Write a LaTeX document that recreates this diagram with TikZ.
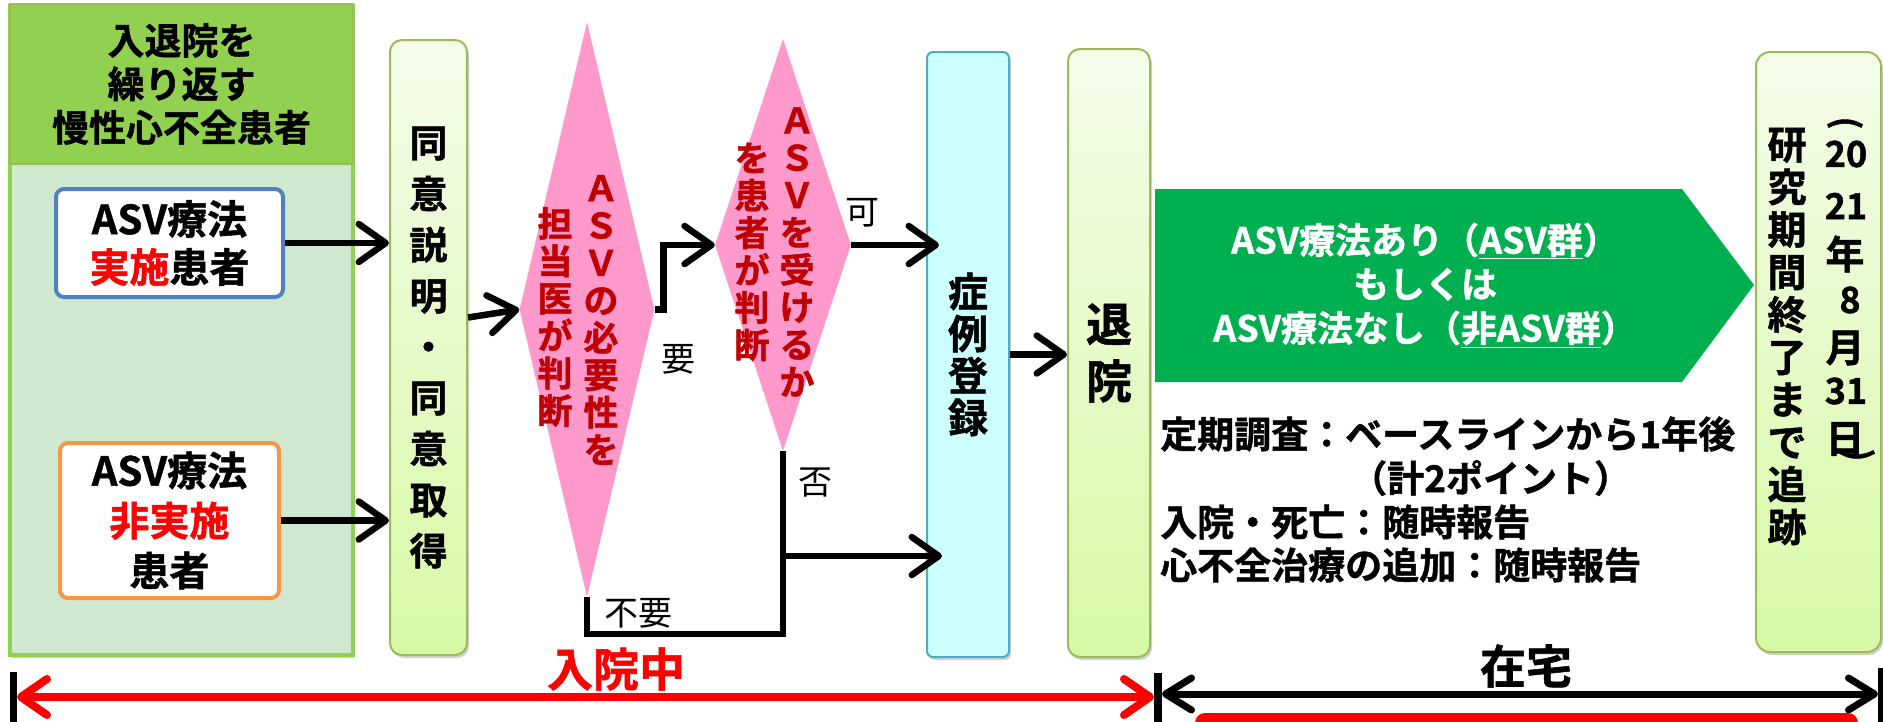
\documentclass[tikz,border=0pt]{standalone}
\usepackage{fontspec}
\setmainfont{Noto Sans CJK JP}[BoldFont={Noto Sans CJK JP Bold},BoldFeatures={FakeBold=1.2}]
\usetikzlibrary{arrows.meta,shapes.geometric,shadows}
\definecolor{hdrG}{HTML}{92D050}
\definecolor{bodyG}{HTML}{D0E7D0}
\definecolor{boxBlue}{HTML}{4F81BD}
\definecolor{boxOrange}{HTML}{F79646}
\definecolor{lgTop}{HTML}{F4FCEA}
\definecolor{lgBot}{HTML}{D7F9A6}
\definecolor{lgBorder}{HTML}{9BBB59}
\definecolor{cyanFill}{HTML}{CCFFFF}
\definecolor{cyanBorder}{HTML}{4BACC6}
\definecolor{pinkD}{HTML}{FF99CC}
\definecolor{darkRed}{HTML}{C00000}
\definecolor{asvG}{HTML}{00B050}
\newcommand\fsz[2]{\fontsize{#1}{#2}\selectfont}
\begin{document}
\begin{tikzpicture}[x=1pt,y=-1pt,
  conn/.style={line width=6.5pt},
  arr/.style={line width=6.5pt,-{Straight Barb[length=27pt,width=38pt,round]}},
  redarr/.style={draw=red,line width=8pt,{Straight Barb[length=26pt,width=36pt,round]}-{Straight Barb[length=26pt,width=36pt,round]}},
  blkarr/.style={draw=black,line width=7pt,{Straight Barb[length=26pt,width=32pt,round]}-{Straight Barb[length=26pt,width=32pt,round]}},
  lbl/.style={font=\fsz{34}{36},inner sep=0pt},
  shad/.style={drop shadow={shadow xshift=2pt,shadow yshift=-3pt,opacity=0.18,fill=black}},
  rbox/.style={rectangle,rounded corners=12pt,draw=lgBorder,line width=2pt,top color=lgTop,bottom color=lgBot,inner sep=0pt,align=center},
  dtxt/.style={font=\bfseries\fsz{35}{37.4},text=darkRed,align=center,inner sep=0pt},
  cj/.style={font=\bfseries\fsz{39}{40},inner sep=0pt},
  dig/.style={font=\bfseries\fsz{36}{38},inner sep=0pt},
  note/.style={font=\bfseries\fsz{37}{40},inner sep=0pt,anchor=west}
]
\useasboundingbox (0,0) rectangle (1883,721);

% left group
\node[shad,rectangle,draw=hdrG,line width=4pt,fill=bodyG,minimum width=343pt,minimum height=649pt,inner sep=0pt] (body) at (181.5,330.5) {};
\node[rectangle,draw=lgBorder,line width=2.5pt,fill=hdrG,minimum width=343pt,minimum height=160pt,inner sep=0pt,align=center,font=\bfseries\fsz{37}{43.5}] (hdr) at (181.5,84) {入退院を\\繰り返す\\慢性心不全患者};
\node[rectangle,rounded corners=8pt,draw=boxBlue,line width=4pt,fill=white,minimum width=227pt,minimum height=108pt,inner sep=0pt,align=center,font=\bfseries\fsz{40}{48}] (b1) at (169.5,243) {ASV療法\\\textcolor{red}{実施}患者};
\node[rectangle,rounded corners=8pt,draw=boxOrange,line width=4pt,fill=white,minimum width=219pt,minimum height=155pt,inner sep=0pt,align=center,font=\bfseries\fsz{40}{50}] (b2) at (169.5,520.5) {ASV療法\\\textcolor{red}{非実施}\\患者};

% consent
\node[rbox,shad,minimum width=77pt,minimum height=615pt,font=\bfseries\fsz{38}{51}] (cons) at (428.5,347.5) {同\\意\\説\\明\\・\\同\\意\\取\\得};

% diamonds
\node[diamond,fill=pinkD,minimum width=135pt,minimum height=575pt,inner sep=0pt] (d1) at (587,309.5) {};
\node[diamond,fill=pinkD,minimum width=136pt,minimum height=412pt,inner sep=0pt] (d2) at (783,245) {};
\node[dtxt] (d1r) at (601,320) {Ａ\\Ｓ\\Ｖ\\の\\必\\要\\性\\を};
\node[dtxt] (d1l) at (555,317) {担\\当\\医\\が\\判\\断};
\node[dtxt] (d2r) at (797,252) {Ａ\\Ｓ\\Ｖ\\を\\受\\け\\る\\か};
\node[dtxt] (d2l) at (752,252) {を\\患\\者\\が\\判\\断};

% registration and discharge
\node[rectangle,rounded corners=6pt,draw=cyanBorder,line width=2pt,fill=cyanFill,shad,minimum width=82pt,minimum height=605pt,inner sep=0pt,align=center,font=\bfseries\fsz{40}{42}] (reg) at (968,354.5) {症\\例\\登\\録};
\node[rbox,shad,minimum width=82pt,minimum height=608pt,font=\bfseries\fsz{46}{57}] (tai) at (1109,353) {退\\院};
\node[rbox,shad,rounded corners=14pt,minimum width=125pt,minimum height=600pt] (fin) at (1818.5,352) {};

% final box texts
\node[align=center,font=\bfseries\fsz{39}{42.5},inner sep=0pt] (f1) at (1787,336.5) {研\\究\\期\\間\\終\\了\\ま\\で\\追\\跡};
\node[rotate=-90,font=\bfseries\fsz{34}{34},inner sep=0pt] (p1) at (1845,123) {(};
\node[dig] (y20) at (1846,154) {20};
\node[dig] (y21) at (1846,206) {21};
\node[cj] (nen) at (1845,254) {年};
\node[dig] (m8) at (1850,300) {8};
\node[cj] (tsuki) at (1845,348) {月};
\node[dig] (d31) at (1846,391) {31};
\node[cj] (hi) at (1845,439) {日};
\node[rotate=-90,font=\bfseries\fsz{34}{34},inner sep=0pt] (p2) at (1857,455) {)};

% green arrow
\fill[asvG] (1155,189) -- (1682,189) -- (1754,285) -- (1682,382) -- (1155,382) -- cycle;
\node[font=\bfseries\fsz{36}{44},text=white,align=center,inner sep=0pt] (grp) at (1425,285) {ASV療法あり（\underline{ASV群}）\\もしくは\\ASV療法なし（\underline{非ASV群}）};

% notes
\node[note] (n1) at (1160,434) {定期調査：ベースラインから1年後};
\node[note] (n2) at (1350,478) {（計2ポイント）};
\node[note] (n3) at (1160,522) {入院・死亡：随時報告};
\node[note] (n4) at (1160,565) {心不全治療の追加：随時報告};

% connectors
\draw[arr] (b1.east) -- (b1.east -| cons.west);
\draw[arr] (b2.east) -- (b2.east -| cons.west);
\draw[arr] ([yshift=30pt]cons.east) -- (d1.west);
\draw[arr] (d1.east) -- ++(9,0) |- (d2.west);
\draw[arr] (d2.east) -- ([xshift=13pt]reg.west |- d2.east);
\coordinate (yB) at (0,634);
\coordinate (yN) at (0,556);
\coordinate (jd) at (d1.south |- yB);
\coordinate (jb) at (d2.south |- yB);
\coordinate (jn) at (d2.south |- yN);
\draw[conn] (d1.south) -- (jd) -- (jb) -- (d2.south);
\draw[arr] ([xshift=-3pt]jn) -- ([xshift=16pt]reg.west |- jn);
\draw[arr] (reg.east) -- (reg.east -| tai.west);

\node[lbl] (lyo) at (678,359) {要};
\node[lbl] (lka) at (862,213) {可};
\node[lbl] (lhi) at (815,483) {否};
\node[lbl] (lfu) at (638,613) {不要};

% bottom timeline
\coordinate (bL1) at (13,672); \coordinate (bL2) at (13,725);
\coordinate (bM1) at (1158,673); \coordinate (bM2) at (1158,725);
\coordinate (bR1) at (1880,668); \coordinate (bR2) at (1880,725);
\coordinate (rL) at (17,697); \coordinate (rR) at (1154,697);
\coordinate (kL) at (1162,694); \coordinate (kR) at (1878,694);
\draw[line width=7pt] (bL1) -- (bL2);
\draw[line width=8pt] (bM1) -- (bM2);
\draw[line width=5pt] (bR1) -- (bR2);
\draw[redarr] (rL) -- (rR);
\draw[blkarr] (kL) -- (kR);
\fill[red,rounded corners=10pt] (1195,713) rectangle (1858,760);
\node[font=\bfseries\fsz{46}{50},text=red,inner sep=0pt] (inchu) at (616,669) {入院中};
\node[font=\bfseries\fsz{46}{50},inner sep=0pt] (zaitaku) at (1526,666) {在宅};
\end{tikzpicture}
\end{document}
